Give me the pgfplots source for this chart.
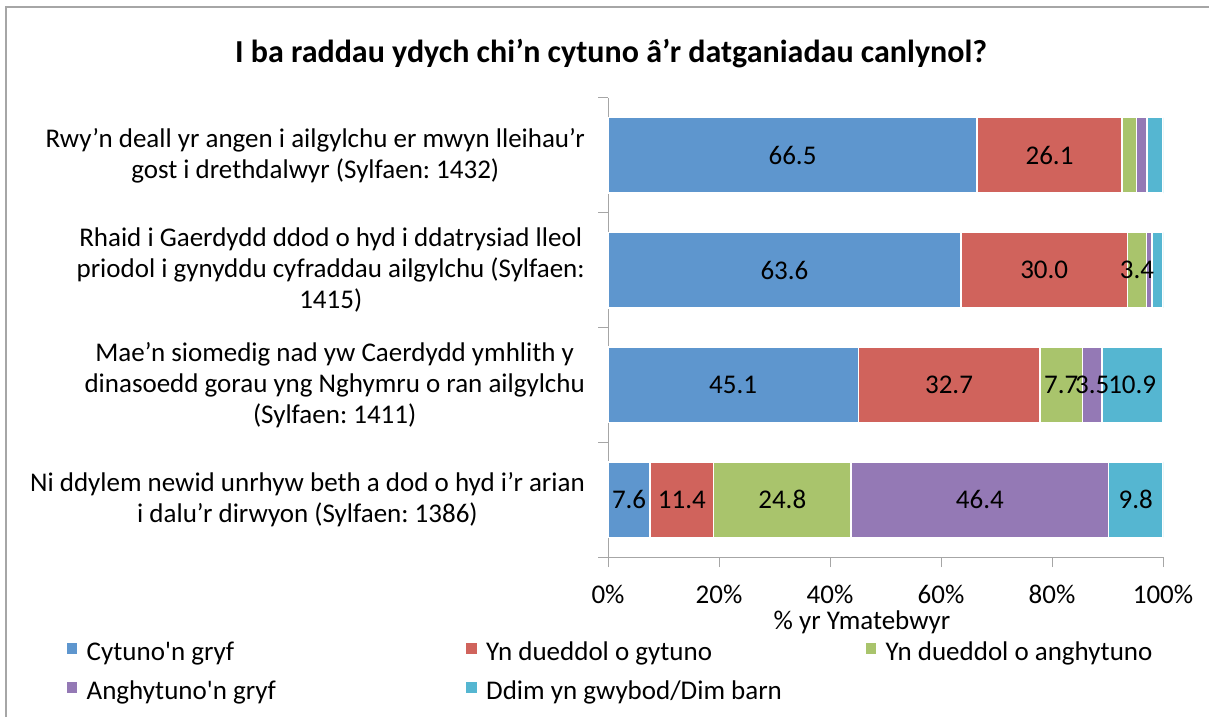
\documentclass[border=0pt]{standalone}
\usepackage{pgfplots}
\pgfplotsset{compat=1.18}
\usepackage{fontspec}
\setmainfont{Carlito}
\frenchspacing
\definecolor{cblue}{HTML}{5E96CE}
\definecolor{cred}{HTML}{D0635C}
\definecolor{cgreen}{HTML}{A9C46C}
\definecolor{cpurple}{HTML}{9479B5}
\definecolor{ccyan}{HTML}{55B6D1}
\definecolor{axgray}{HTML}{A6A6A6}
\newcommand{\fs}{\fontsize{27}{31}\selectfont}
\newcommand{\fc}{\fontsize{27}{31}\selectfont}
\newcommand{\lb}[1]{\makebox[370pt][l]{#1}}
\begin{document}
\begin{tikzpicture}[x=1pt,y=1pt]
\useasboundingbox (0,0) rectangle (1209,717);
\fill[white] (0,0) rectangle (1209,717);
\draw[axgray, line width=2pt] (6,0) -- (6,710) -- (1209,710);
\node[font=\fontsize{32}{36}\selectfont\bfseries, anchor=base] at (611,654) {I ba raddau ydych chi’n cytuno â’r datganiadau canlynol?};
\node[font=\fs, anchor=base] at (862,87) {\% yr Ymatebwyr};
\begin{axis}[
  at={(608pt,160pt)}, anchor=south west,
  scale only axis, width=555pt, height=459pt,
  xbar stacked, bar width=0.66,
  xmin=0, xmax=100, ymin=-0.5, ymax=3.5,
  axis x line*=bottom, axis y line*=left,
  axis line style={axgray, line width=1pt},
  xtick={0,20,...,100},
  xticklabel={\pgfmathprintnumber{\tick}\%},
  /pgf/number format/assume math mode=true,
  xticklabel style={font=\fs, anchor=base, yshift=-36pt},
  ytick={-0.5,0.5,1.5,2.5,3.5}, yticklabels={},
  tick align=outside, major tick length=10pt,
  tick style={axgray, line width=1pt},
  extra y ticks={0,1,2,3},
  extra y tick labels={
    {Ni ddylem newid unrhyw beth a dod o hyd i’r arian\\i dalu’r dirwyon (Sylfaen: 1386)},
    {Mae’n siomedig nad yw Caerdydd ymhlith y\\dinasoedd gorau yng Nghymru o ran ailgylchu\\(Sylfaen: 1411)},
    {Rhaid i Gaerdydd ddod o hyd i ddatrysiad lleol\\priodol i gynyddu cyfraddau ailgylchu (Sylfaen:\\1415)},
    {Rwy’n deall yr angen i ailgylchu er mwyn lleihau’r\\gost i drethdalwyr (Sylfaen: 1432)}},
  extra y tick style={major tick length=0pt, yticklabel style={align=center, font=\fc, inner sep=0pt, xshift=-23pt}},
  every axis plot/.append style={draw=white, line width=1.5pt},
  visualization depends on={rawx \as \rawx},
  nodes near coords={\pgfmathparse{\rawx>3?1:0}\ifdim\pgfmathresult pt>0.5pt \pgfmathprintnumber[fixed,fixed zerofill,precision=1]{\rawx}\fi},
  every node near coord/.append style={font=\fs, anchor=center, text=black, inner sep=0pt},
  legend columns=3,
  legend image code/.code={\fill[#1] (0pt,-1pt) rectangle (12pt,11pt);},
  legend style={draw=none, at={(axis description cs:-0.9784,-0.1830)}, anchor=north west,
    inner sep=0pt, column sep=8pt, row sep=14pt, font=\fs,
    nodes={inner sep=0pt, text height=19pt, text depth=6pt}},
  legend cell align=left,
]
\addplot[fill=cblue] coordinates {(7.6,0) (45.1,1) (63.6,2) (66.5,3)};
\addplot[fill=cred] coordinates {(11.4,0) (32.7,1) (30.0,2) (26.1,3)};
\addplot[fill=cgreen] coordinates {(24.8,0) (7.7,1) (3.4,2) (2.6,3)};
\addplot[fill=cpurple] coordinates {(46.4,0) (3.5,1) (1.0,2) (1.9,3)};
\addplot[fill=ccyan] coordinates {(9.8,0) (10.9,1) (2.0,2) (2.9,3)};
\legend{\lb{Cytuno\textquotesingle n gryf}, \lb{Yn dueddol o gytuno}, \lb{Yn dueddol o anghytuno}, \lb{Anghytuno\textquotesingle n gryf}, \lb{Ddim yn gwybod/Dim barn}}
\end{axis}
\end{tikzpicture}
\end{document}
